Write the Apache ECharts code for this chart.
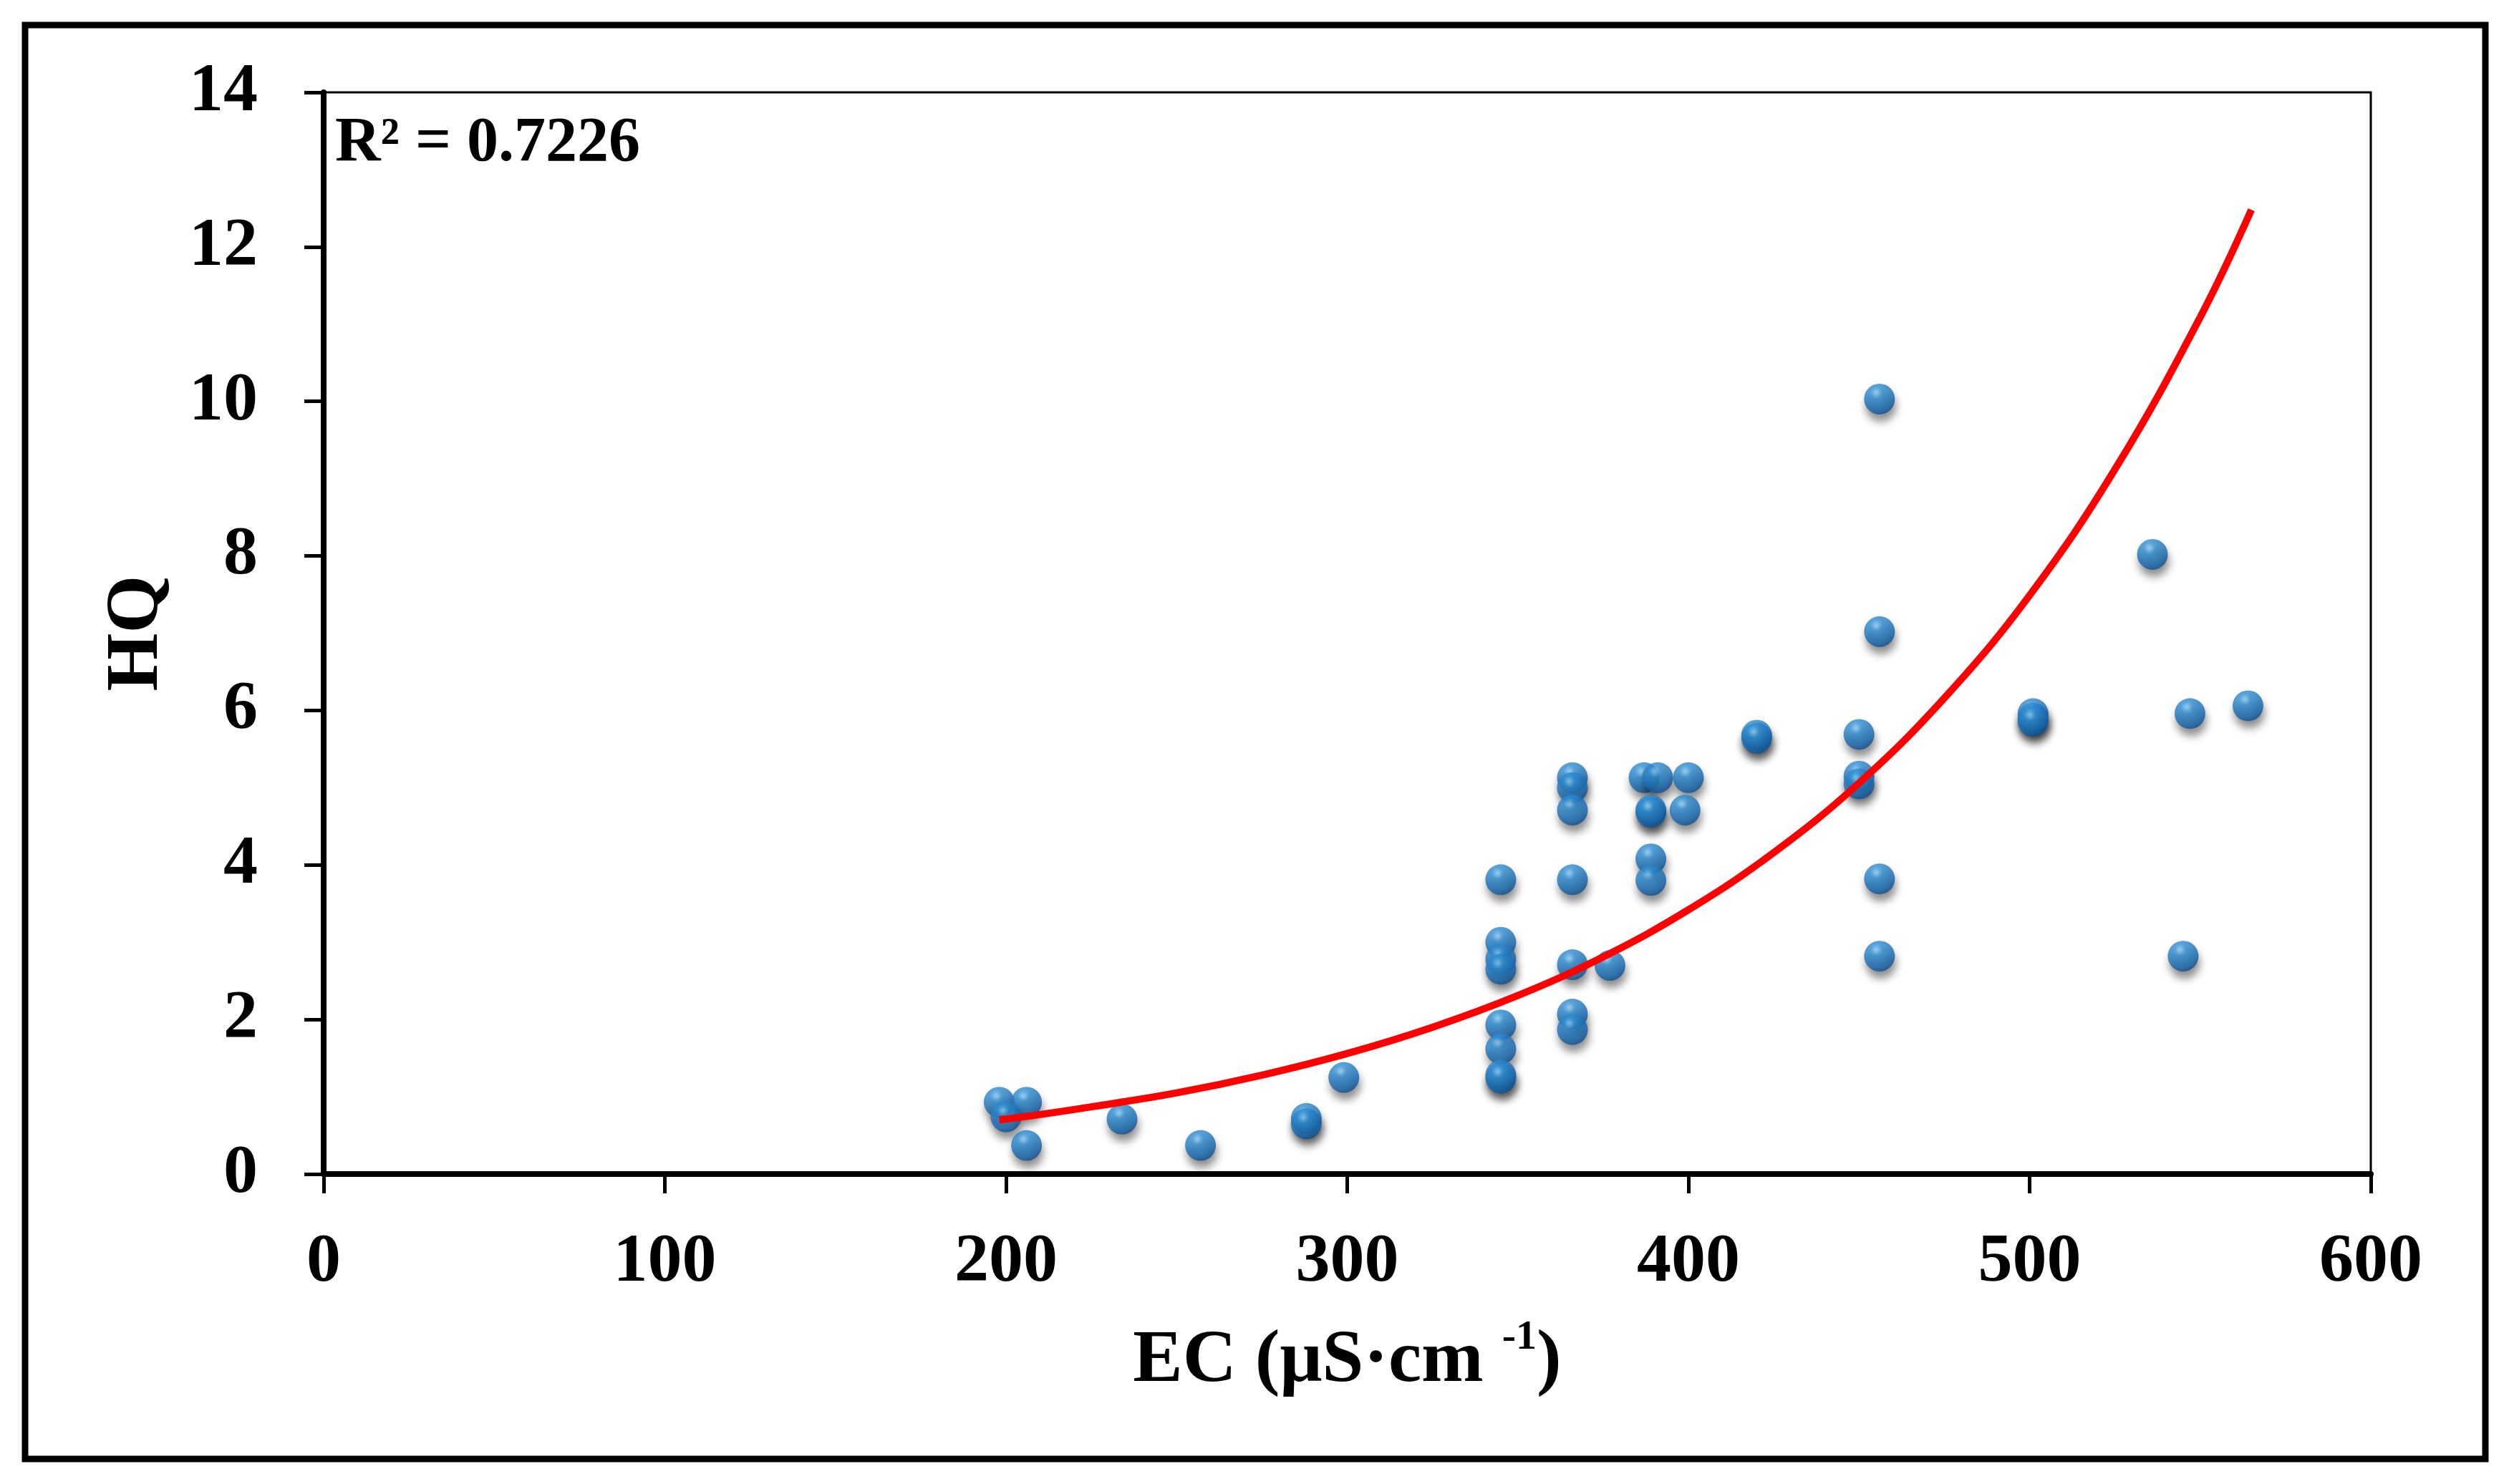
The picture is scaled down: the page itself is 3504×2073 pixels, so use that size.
<!DOCTYPE html>
<html>
<head>
<meta charset="utf-8">
<script src="https://cdn.jsdelivr.net/npm/echarts@6/dist/echarts.min.js"></script>
<style>
  html, body { margin: 0; padding: 0; background: #fff; }
  #chart { width: 3504px; height: 2073px; }
</style>
</head>
<body>
<div id="chart"></div>
<script>
// EC (uS/cm) vs HQ sample points
var ecValues = [198, 206, 200, 206, 234, 257, 288, 288, 299,
                345, 345, 345, 345, 345, 345, 345, 345,
                366, 366, 366, 366, 366, 366, 366, 377,
                387, 391, 389, 389, 389, 389, 400, 399,
                420, 420, 450, 450, 450,
                456, 456, 456, 456,
                501, 501, 501, 536, 545, 547, 564];
var hqValues = [0.93, 0.93, 0.74, 0.37, 0.71, 0.37, 0.72, 0.65, 1.25,
                3.81, 3.00, 2.78, 2.65, 1.93, 1.62, 1.28, 1.24,
                5.13, 5.00, 4.71, 3.81, 2.71, 2.07, 1.87, 2.70,
                5.13, 5.13, 4.71, 4.68, 4.08, 3.80, 5.13, 4.71,
                5.68, 5.64, 5.69, 5.15, 5.05,
                10.03, 7.02, 3.82, 2.82,
                5.96, 5.90, 5.86, 8.02, 2.82, 5.96, 6.06];

// red trend curve
var trendX = [198, 210, 225, 250, 275, 300, 325, 350, 375, 400, 425, 450, 475, 500, 525, 550, 565];
var trendY = [0.70, 0.77, 0.87, 1.05, 1.28, 1.56, 1.90, 2.31, 2.81, 3.42, 4.16, 5.06, 6.16, 7.49, 9.12, 11.09, 12.48];

var xTicks = [0, 100, 200, 300, 400, 500, 600];
var yTicks = [0, 2, 4, 6, 8, 10, 12, 14];
var r2Text = 'R\u00b2 = 0.7226';

var FONT = 'Liberation Serif';

function zip(a, b) {
    return a.map(function (v, i) { return [v, b[i]]; });
}

var myChart = echarts.init(document.getElementById('chart'));

var sphere = new echarts.graphic.RadialGradient(0.4, 0.3, 0.75, [
    { offset: 0, color: '#8fd0f5' },
    { offset: 0.25, color: '#3190d6' },
    { offset: 0.75, color: '#1869b0' },
    { offset: 1, color: '#0c4680' }
]);

var option = {
    backgroundColor: '#fff',
    animation: false,
    grid: {
        left: 452, top: 129, width: 2859, height: 1511,
        show: true, borderColor: '#000', borderWidth: 3,
        backgroundColor: 'transparent'
    },
    xAxis: {
        type: 'value',
        min: xTicks[0], max: xTicks[xTicks.length - 1], interval: 100,
        splitLine: { show: false },
        axisLine: { show: true, lineStyle: { color: '#000', width: 8 } },
        axisTick: { show: true, inside: false, length: 27, lineStyle: { color: '#000', width: 5 } },
        axisLabel: { color: '#000', fontFamily: FONT, fontWeight: 'bold', fontSize: 96, margin: 76 },
        name: '{a|EC (\u03bcS\u00b7cm }{s|-1}{a|)}',
        nameLocation: 'middle',
        nameGap: 200,
        nameTextStyle: {
            rich: {
                a: { fontFamily: FONT, fontWeight: 'bold', fontSize: 104, color: '#000', verticalAlign: 'bottom', lineHeight: 114 },
                s: { fontFamily: FONT, fontWeight: 'bold', fontSize: 58, color: '#000', verticalAlign: 'top', lineHeight: 114 }
            }
        }
    },
    yAxis: {
        type: 'value',
        min: yTicks[0], max: yTicks[yTicks.length - 1], interval: 2,
        splitLine: { show: false },
        axisLine: { show: true, lineStyle: { color: '#000', width: 8 } },
        axisTick: { show: true, inside: false, length: 27, lineStyle: { color: '#000', width: 5 } },
        axisLabel: { color: '#000', fontFamily: FONT, fontWeight: 'bold', fontSize: 96, margin: 92 },
        name: 'HQ',
        nameLocation: 'middle',
        nameGap: 208,
        nameTextStyle: { color: '#000', fontFamily: FONT, fontWeight: 'bold', fontSize: 104 }
    },
    graphic: [
        {
            type: 'rect',
            shape: { x: 35, y: 35, width: 3436, height: 2003 },
            style: { fill: 'none', stroke: '#000', lineWidth: 9 },
            z: 0
        },
        {
            type: 'text',
            x: 468, y: 201,
            style: {
                text: r2Text,
                font: 'bold 88px "Liberation Serif"',
                fill: '#000',
                verticalAlign: 'middle'
            },
            z: 10
        }
    ],
    series: [
        {
            type: 'scatter',
            data: zip(ecValues, hqValues),
            symbol: 'circle',
            symbolSize: 43,
            itemStyle: {
                color: sphere,
                shadowColor: 'rgba(0,0,0,0.55)',
                shadowBlur: 12,
                shadowOffsetX: 2,
                shadowOffsetY: 10
            },
            z: 2
        },
        {
            type: 'line',
            data: zip(trendX, trendY),
            smooth: 0.4,
            showSymbol: false,
            lineStyle: { color: '#ff0000', width: 10 },
            z: 3
        }
    ]
};

myChart.setOption(option);
</script>
</body>
</html>
